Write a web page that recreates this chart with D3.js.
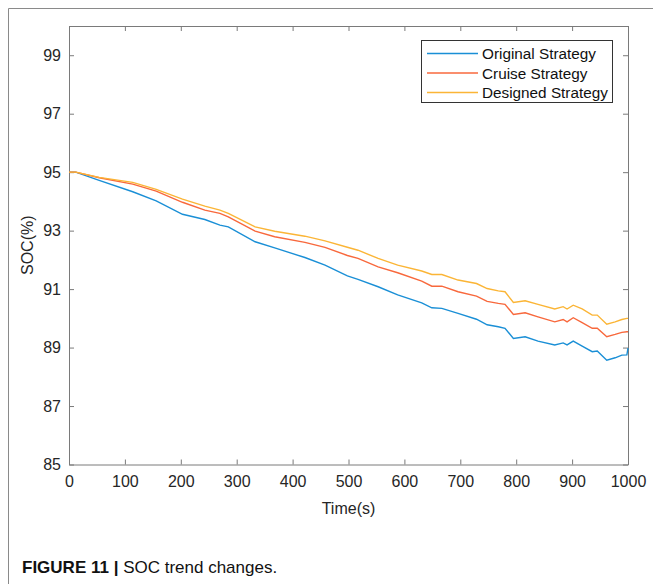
<!DOCTYPE html>
<html lang="en">
<head>
<meta charset="utf-8">
<title>SOC trend changes</title>
<script src="https://d3js.org/d3.v7.min.js"></script>
<style>
  body { margin: 0; background: #fff; }
  svg { display: block; font-family: "Liberation Sans", Arial, sans-serif; }
  .axis path, .axis line { stroke: #7a7a7a; }
  .axis text { fill: #262626; font-size: 16px; }
</style>
</head>
<body>
<svg id="chart" width="653" height="584"></svg>
<script>
// time points (s)
const times = [0, 12, 54, 114, 156, 203, 243, 270, 285, 333, 368, 422, 458, 498, 517, 553, 588, 631, 649, 667, 696, 729, 748, 768, 780, 795, 816, 839, 869, 884, 891, 902, 918, 936, 945, 962, 977, 989, 998, 1000];

const originalSOC = [95.0, 95.0, 94.72, 94.33, 94.02, 93.56, 93.38, 93.19, 93.13, 92.62, 92.41, 92.08, 91.82, 91.45, 91.33, 91.08, 90.80, 90.53, 90.36, 90.34, 90.17, 89.97, 89.78, 89.71, 89.66, 89.31, 89.37, 89.22, 89.09, 89.16, 89.09, 89.22, 89.05, 88.86, 88.88, 88.57, 88.65, 88.74, 88.75, 88.98];
const cruiseSOC = [95.0, 95.0, 94.81, 94.59, 94.35, 93.97, 93.70, 93.59, 93.47, 92.98, 92.79, 92.60, 92.43, 92.15, 92.05, 91.76, 91.56, 91.27, 91.10, 91.10, 90.91, 90.76, 90.58, 90.51, 90.48, 90.13, 90.19, 90.05, 89.88, 89.96, 89.88, 90.02, 89.85, 89.66, 89.66, 89.37, 89.45, 89.52, 89.54, 89.54];
const designedSOC = [95.0, 95.0, 94.82, 94.65, 94.41, 94.08, 93.84, 93.70, 93.59, 93.13, 92.98, 92.81, 92.65, 92.43, 92.33, 92.05, 91.82, 91.62, 91.50, 91.50, 91.31, 91.19, 91.02, 90.94, 90.91, 90.54, 90.60, 90.48, 90.32, 90.40, 90.32, 90.45, 90.32, 90.11, 90.11, 89.80, 89.88, 89.96, 90.00, 90.00];

const seriesNames = ["Original Strategy", "Cruise Strategy", "Designed Strategy"];
const seriesColors = ["#1a8fd6", "#f8683c", "#fbb536"];
const xTicks = [0, 100, 200, 300, 400, 500, 600, 700, 800, 900, 1000];
const yTicks = [85, 87, 89, 91, 93, 95, 97, 99];

const svg = d3.select("#chart");

// outer figure frame (top + left only)
svg.append("path")
  .attr("d", "M8.5,584 L8.5,8.5 L653,8.5")
  .attr("fill", "none")
  .attr("stroke", "#8a8a8a")
  .attr("stroke-width", 1);

const x = d3.scaleLinear().domain([0, 1000]).range([69, 628]);
const y = d3.scaleLinear().domain([85, 100]).range([464.5, 26]);

// axes, ticks pointing inward, box on
svg.append("g").attr("class", "axis")
  .attr("transform", "translate(0," + y(85) + ")")
  .call(d3.axisBottom(x).tickValues(xTicks).tickFormat(d3.format("d")).tickSize(-5).tickPadding(11).tickSizeOuter(0));
svg.append("g").attr("class", "axis")
  .attr("transform", "translate(" + x(0) + ",0)")
  .call(d3.axisLeft(y).tickValues(yTicks).tickSize(-5).tickPadding(8).tickSizeOuter(0));
svg.append("g").attr("class", "axis")
  .attr("transform", "translate(0," + y(100) + ")")
  .call(d3.axisTop(x).tickValues(xTicks).tickSize(-5).tickFormat("").tickSizeOuter(0));
svg.append("g").attr("class", "axis")
  .attr("transform", "translate(" + x(1000) + ",0)")
  .call(d3.axisRight(y).tickValues(yTicks).tickSize(-5).tickFormat("").tickSizeOuter(0));

// curves
const line = d3.line()
  .x((d, i) => x(times[i]))
  .y(d => y(d));

[originalSOC, cruiseSOC, designedSOC].forEach((vals, k) => {
  svg.append("path")
    .datum(vals)
    .attr("d", line)
    .attr("fill", "none")
    .attr("stroke", seriesColors[k])
    .attr("stroke-width", 1.4);
});

// axis labels
svg.append("text")
  .attr("x", x(500)).attr("y", 514)
  .attr("text-anchor", "middle")
  .attr("font-size", 16).attr("fill", "#262626")
  .text("Time(s)");
svg.append("text")
  .attr("transform", "translate(33," + y(92.5) + ") rotate(-90)")
  .attr("text-anchor", "middle")
  .attr("font-size", 16).attr("fill", "#262626")
  .text("SOC(%)");

// legend
const lg = svg.append("g");
lg.append("rect")
  .attr("x", 421.5).attr("y", 40.5)
  .attr("width", 191).attr("height", 62)
  .attr("fill", "#fff").attr("stroke", "#333").attr("stroke-width", 1);
seriesNames.forEach((name, i) => {
  const ly = 53.5 + i * 19.5;
  lg.append("line")
    .attr("x1", 427).attr("x2", 478)
    .attr("y1", ly).attr("y2", ly)
    .attr("stroke", seriesColors[i]).attr("stroke-width", 1.4);
  lg.append("text")
    .attr("x", 482).attr("y", ly + 5.5)
    .attr("font-size", 15.3).attr("fill", "#111")
    .text(name);
});

// caption
const cap = svg.append("text")
  .attr("x", 22).attr("y", 573)
  .attr("font-size", 17).attr("fill", "#111");
cap.append("tspan").attr("font-weight", "bold").text("FIGURE 11 ");
cap.append("tspan").attr("font-weight", "bold").text("|");
cap.append("tspan").text(" SOC trend changes.");
</script>
</body>
</html>
